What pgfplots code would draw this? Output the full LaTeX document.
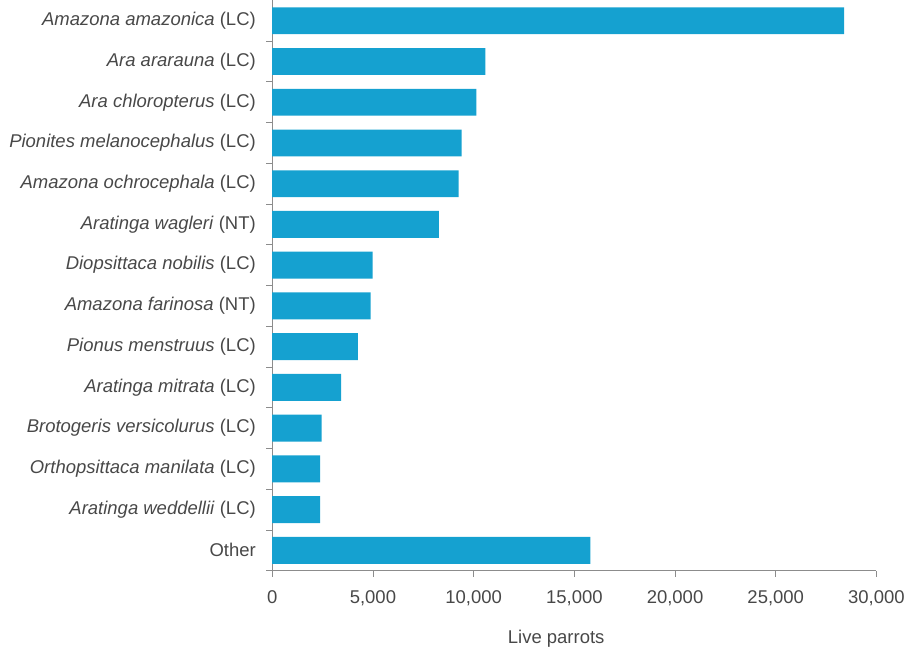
\documentclass[border={6bp 0bp 1bp 0bp}]{standalone}
\usepackage{pgfplots}
\pgfplotsset{compat=1.18}
\usepackage{fontspec}
\setmainfont{Liberation Sans}
\definecolor{barc}{HTML}{15A1D0}
\definecolor{axc}{HTML}{8C8C8C}
\definecolor{txt}{HTML}{484848}
\begin{document}
\begin{tikzpicture}
\begin{axis}[
  scale only axis,
  width=606bp, height=572bp,
  xbar, bar width=27bp,
  xmin=0, xmax=30000,
  ymin=-0.5, ymax=13.5,
  y dir=reverse,
  axis x line*=bottom, axis y line*=left,
  axis line style={axc, line width=0.8pt},
  tick style={axc, line width=0.8pt},
  tick align=outside,
  xtick={0,5000,...,30000},
  major tick length=6bp,
  /pgf/number format/assume math mode=true,
  /pgf/number format/1000 sep={,},
  scaled x ticks=false,
  ytick={0,...,13},
  yticklabels={
    {\textit{Amazona amazonica} (LC)},
    {\textit{Ara ararauna} (LC)},
    {\textit{Ara chloropterus} (LC)},
    {\textit{Pionites melanocephalus} (LC)},
    {\textit{Amazona ochrocephala} (LC)},
    {\textit{Aratinga wagleri} (NT)},
    {\textit{Diopsittaca nobilis} (LC)},
    {\textit{Amazona farinosa} (NT)},
    {\textit{Pionus menstruus} (LC)},
    {\textit{Aratinga mitrata} (LC)},
    {\textit{Brotogeris versicolurus} (LC)},
    {\textit{Orthopsittaca manilata} (LC)},
    {\textit{Aratinga weddellii} (LC)},
    {Other}},
  ytick style={draw=none},
  extra y ticks={0.5,1.5,...,13.5},
  extra y tick labels={},
  extra y tick style={ytick style={axc, line width=0.8pt, draw=axc}, major tick length=6bp},
  yticklabel style={font=\fontsize{18.6}{22}\selectfont, text=txt, xshift=-7bp},
  xticklabel style={font=\fontsize{18.6}{22}\selectfont, text=txt, yshift=-10bp},
  xlabel={Live parrots},
  xlabel style={font=\fontsize{18.6}{22}\selectfont, text=txt, at={(axis description cs:0.47,0)}, anchor=base, yshift=-73bp},
  clip=false,
]
\addplot[fill=barc, draw=none] coordinates {
  (28400,0) (10580,1) (10130,2) (9400,3) (9260,4) (8270,5) (4980,6)
  (4880,7) (4250,8) (3420,9) (2450,10) (2380,11) (2380,12) (15800,13)
};
\end{axis}
\end{tikzpicture}
\end{document}
